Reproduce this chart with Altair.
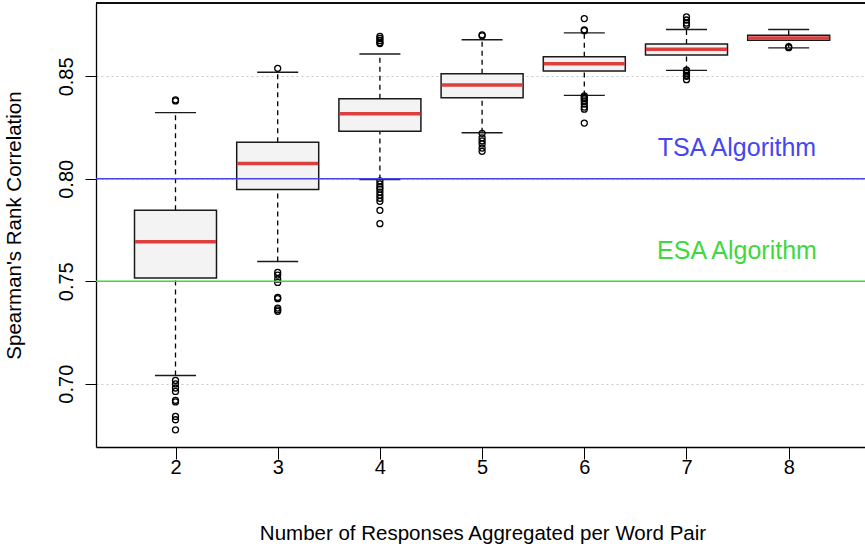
import altair as alt
import pandas as pd

# Number of responses aggregated per word pair
groups = [2, 3, 4, 5, 6, 7, 8]

# Box-plot summary statistics of Spearman's rank correlation
lower_whisker = [0.7040, 0.7596, 0.7996, 0.8225, 0.8407, 0.8529, 0.8639]
q1 = [0.7516, 0.7948, 0.8232, 0.8396, 0.8526, 0.8604, 0.8676]
median = [0.7693, 0.8075, 0.8318, 0.8458, 0.8562, 0.8632, 0.8687]
q3 = [0.7846, 0.8178, 0.8391, 0.8513, 0.8596, 0.8658, 0.8700]
upper_whisker = [0.8323, 0.8520, 0.8609, 0.8679, 0.8712, 0.8729, 0.8729]

# Outlying correlations per group
outliers = {
    2: [0.8385, 0.8380, 0.7016, 0.6999, 0.6979, 0.6962, 0.6919, 0.6911,
        0.6840, 0.6824, 0.6775],
    3: [0.8539, 0.7543, 0.7530, 0.7510, 0.7494, 0.7421, 0.7415, 0.7369,
        0.7360, 0.7353],
    4: [0.8695, 0.8685, 0.8675, 0.8665, 0.8660, 0.7990, 0.7975, 0.7960,
        0.7950, 0.7935, 0.7920, 0.7905, 0.7890, 0.7846, 0.7781],
    5: [0.8702, 0.8698, 0.8222, 0.8200, 0.8185, 0.8170, 0.8150, 0.8134],
    6: [0.8782, 0.8727, 0.8723, 0.8405, 0.8397, 0.8390, 0.8380, 0.8365,
        0.8350, 0.8340, 0.8272],
    7: [0.8790, 0.8775, 0.8760, 0.8750, 0.8530, 0.8522, 0.8515, 0.8505,
        0.8500, 0.8484],
    8: [0.8645, 0.8640],
}

# Benchmark algorithms drawn as horizontal reference lines
ref_names = ["TSA Algorithm", "ESA Algorithm"]
ref_values = [0.80, 0.75]
ref_colors = ["#4646ee", "#3ed83e"]
label_x = [7.494, 7.494]
label_y = [0.8110, 0.7609]

y_ticks = [0.70, 0.75, 0.80, 0.85]

boxes = pd.DataFrame({
    "n": groups, "lo": lower_whisker, "q1": q1, "med": median,
    "q3": q3, "hi": upper_whisker,
})
points = pd.DataFrame(
    [{"n": g, "r": v} for g in groups for v in outliers[g]]
)
refs = pd.DataFrame({"name": ref_names, "value": ref_values,
                     "color": ref_colors, "lx": label_x, "ly": label_y})

FONT = "Liberation Sans"
# the plot region runs on past the right edge, so it has no right frame line
x_scale = alt.Scale(domain=[1.2221, 8.7466], nice=False, zero=False, padding=0)
y_scale = alt.Scale(domain=[0.6691, 0.8858], nice=False, zero=False, padding=0)

x_axis = alt.Axis(
    values=groups, format="d", grid=False,
    domain=True, domainColor="black", domainWidth=1.3,
    tickSize=12, tickColor="black", tickWidth=1,
    labelFont=FONT, labelFontSize=20, labelColor="black",
    labelBaseline="alphabetic", labelPadding=14,
    title="Number of Responses Aggregated per Word Pair",
    titleFont=FONT, titleFontSize=20.5, titleFontWeight="normal",
    titleColor="black", titleX=386.5, titleY=92.5,
    titleBaseline="alphabetic", titleAlign="center",
)
y_axis = alt.Axis(
    values=y_ticks, format=".2f", grid=True, gridColor="#c8c8c8",
    gridDash=[2, 3], gridWidth=1,
    domain=True, domainColor="black", domainWidth=1.3,
    tickSize=11, tickColor="black", tickWidth=1,
    labelFont=FONT, labelFontSize=20, labelColor="black",
    labelAngle=-90, labelAlign="center", labelBaseline="alphabetic",
    labelPadding=13,
    title="Spearman's Rank Correlation",
    titleFont=FONT, titleFontSize=20.5, titleFontWeight="normal",
    titleColor="black", titleAngle=-90, titleX=-76, titleY=222,
    titleBaseline="alphabetic", titleAlign="center",
)

base = alt.Chart(boxes)
x_enc = alt.X("n:Q", scale=x_scale, axis=x_axis)

upper = base.mark_rule(color="black", strokeWidth=1.3, strokeDash=[5, 4]).encode(
    x=x_enc, y=alt.Y("q3:Q", scale=y_scale, axis=y_axis), y2="hi:Q")
lower = base.mark_rule(color="black", strokeWidth=1.3, strokeDash=[5, 4]).encode(
    x="n:Q", y="lo:Q", y2="q1:Q")

box = base.mark_bar(size=82, fill="#f3f3f3", stroke="#1a1a1a",
                    strokeWidth=1.5, opacity=1).encode(
    x="n:Q", y="q1:Q", y2="q3:Q")
med = base.mark_tick(orient="horizontal", size=81, thickness=3.5,
                     color="#dd3f3f", opacity=1).encode(x="n:Q", y="med:Q")
cap_hi = base.mark_tick(orient="horizontal", size=41, thickness=1.4,
                        color="#1a1a1a", opacity=1).encode(x="n:Q", y="hi:Q")
cap_lo = base.mark_tick(orient="horizontal", size=41, thickness=1.4,
                        color="#1a1a1a", opacity=1).encode(x="n:Q", y="lo:Q")

pts = alt.Chart(points).mark_point(shape="circle", size=36, filled=False,
                                   color="black", strokeWidth=1.3,
                                   opacity=1).encode(x="n:Q", y="r:Q")

lines = alt.Chart(refs).mark_rule(strokeWidth=1.4, opacity=1).encode(
    y="value:Q", color=alt.Color("color:N", scale=None))
labels = alt.Chart(refs).mark_text(font=FONT, fontSize=25, align="center",
                                   baseline="alphabetic").encode(
    x="lx:Q", y="ly:Q", text="name:N", color=alt.Color("color:N", scale=None))

# top edge of the plot frame
top_frame = alt.Chart(refs).mark_rule(color="black", strokeWidth=1.3).encode(
    y=alt.value(0), x=alt.value(0), x2=alt.value(769))

chart = alt.layer(
    upper, lower, box, med, cap_hi, cap_lo, pts, lines, labels, top_frame
).properties(
    width=769, height=444,
    background="white",
    autosize=alt.AutoSizeParams(type="none"),
    padding={"left": 96, "top": 3, "right": 0, "bottom": 101},
).configure_view(
    stroke=None,
)

chart.save("out.html", embed_options={"renderer": "svg", "actions": False})
